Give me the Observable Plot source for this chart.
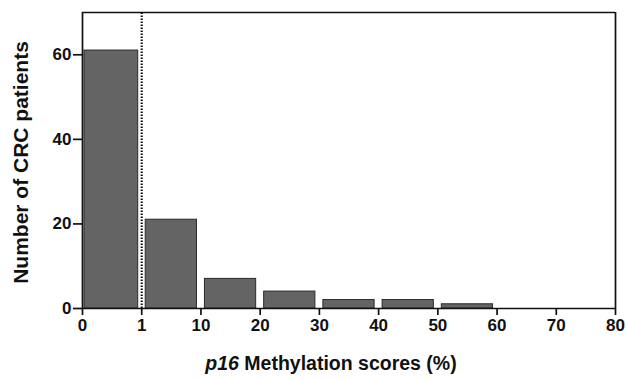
<!DOCTYPE html>
<html><head><meta charset="utf-8">
<script src="https://cdn.jsdelivr.net/npm/d3@7"></script>
<script src="https://cdn.jsdelivr.net/npm/@observablehq/plot@0.6"></script>
<style>body{margin:0;background:#fff}</style>
</head><body><div id="chart"></div>
<script>
// Tick labels of the (non-linear) methylation-score axis, one per evenly spaced tick
const tickLabels = ["0", "1", "10", "20", "30", "40", "50", "60", "70", "80"];
// Histogram bins: start / end tick index and number of patients
const binStart = [0, 1, 2, 3, 4, 5, 6];
const binEnd   = [1, 2, 3, 4, 5, 6, 7];
const binNames = ["0–1", "1–10", "10–20", "20–30", "30–40", "40–50", "50–60"];
const counts   = [61, 21, 7, 4, 2, 2, 1];
const cutoffIndex = [1];   // dotted cut-off line at 1 %
const yTicks = [0, 20, 40, 60];

const data = binStart.map((s, i) => ({bin: binNames[i], x1: s, x2: binEnd[i], count: counts[i]}));
const font = "Arial, 'Liberation Sans', Helvetica, sans-serif";

const W = 626, H = 380;
const plot = Plot.plot({
  width: W, height: H,
  marginLeft: 82, marginRight: 11, marginTop: 12, marginBottom: 72,
  style: {fontFamily: font, fontSize: "17px", fontWeight: "bold", color: "#111", background: "#fff"},
  x: {domain: [0, tickLabels.length - 1], label: null},
  y: {domain: [0, 70], label: null},
  marks: [
    Plot.rectY(data.slice(0, 1), {x1: "x1", x2: "x2", y: "count", fill: "#646464", stroke: "#2a2a2a", strokeWidth: 1, insetLeft: 2, insetRight: 3.5}),
    Plot.rectY(data.slice(1), {x1: "x1", x2: "x2", y: "count", fill: "#646464", stroke: "#2a2a2a", strokeWidth: 1, insetLeft: 4, insetRight: 4}),
    Plot.ruleX(cutoffIndex, {y1: 0, y2: 70, stroke: "#111", strokeWidth: 2.2, strokeDasharray: "1.6,1.4"}),
    Plot.ruleY([0], {stroke: "#111", strokeWidth: 1.7}),
    Plot.ruleY([70], {stroke: "#111", strokeWidth: 1.7}),
    Plot.ruleX([0], {stroke: "#111", strokeWidth: 1.7}),
    Plot.ruleX([tickLabels.length - 1], {stroke: "#111", strokeWidth: 1.7}),
    Plot.axisX(d3.range(tickLabels.length), {tickFormat: i => tickLabels[i], tickSize: 7, tickPadding: 3, strokeWidth: 1.7, label: null}),
    Plot.axisY(yTicks, {tickSize: 9, tickPadding: 2, strokeWidth: 1.7, label: null})
  ]
});

const svg = d3.select(plot);
svg.append("text")
  .attr("transform", `translate(28,${(40 + 285) / 2}) rotate(-90)`)
  .attr("text-anchor", "middle")
  .attr("font-family", font).attr("font-size", 21).attr("font-weight", "bold").attr("fill", "#111")
  .text("Number of CRC patients");
const xl = svg.append("text")
  .attr("x", (205 + 457) / 2).attr("y", 370)
  .attr("text-anchor", "middle")
  .attr("font-family", font).attr("font-size", 19.5).attr("font-weight", "bold").attr("fill", "#111");
xl.append("tspan").attr("font-style", "italic").text("p16");
xl.append("tspan").text(" Methylation scores (%)");

document.getElementById("chart").append(plot);
</script>
</body></html>
